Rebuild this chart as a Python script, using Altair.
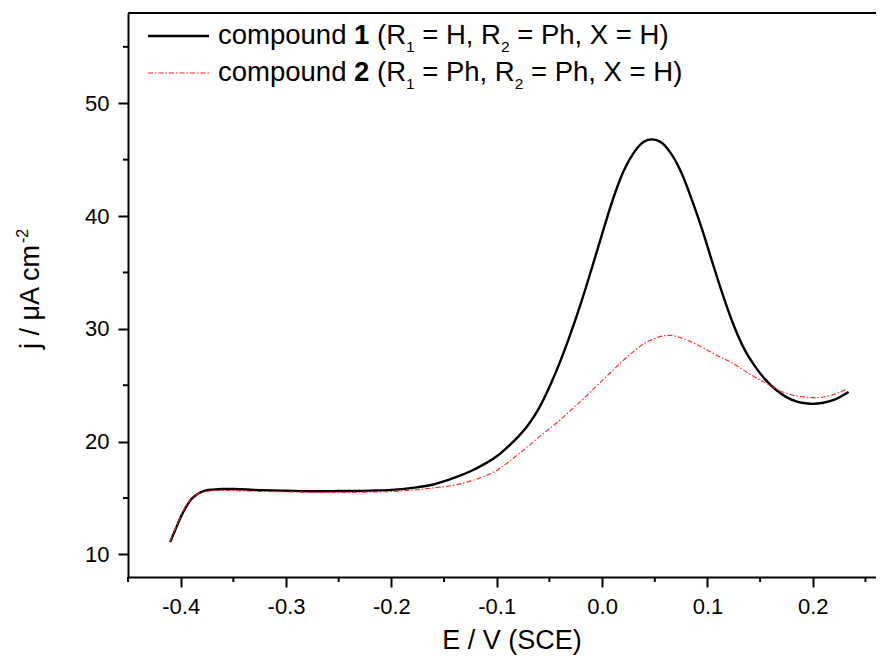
import altair as alt
import pandas as pd

# ---------------- data ----------------
E_c1 = [-0.41, -0.405, -0.40, -0.395, -0.39, -0.385, -0.38, -0.375, -0.37, -0.36, -0.35,
        -0.33, -0.30, -0.27, -0.25, -0.22, -0.20, -0.18, -0.16, -0.14, -0.12, -0.10, -0.09,
        -0.08, -0.07, -0.06, -0.05, -0.04, -0.03, -0.02, -0.01, 0.0, 0.01, 0.02, 0.03, 0.04,
        0.047, 0.055, 0.065, 0.075, 0.085, 0.095, 0.105, 0.115, 0.125, 0.135, 0.145, 0.155,
        0.165, 0.175, 0.185, 0.195, 0.20, 0.21, 0.22, 0.234]
j_c1 = [11.1, 12.2, 13.3, 14.2, 14.9, 15.3, 15.55, 15.7, 15.75, 15.8, 15.8,
        15.72, 15.65, 15.6, 15.62, 15.66, 15.72, 15.9, 16.2, 16.8, 17.6, 18.7, 19.5,
        20.4, 21.5, 22.95, 24.85, 27.05, 29.55, 32.3, 35.3, 38.4, 41.4, 43.9, 45.6, 46.6,
        46.8, 46.6, 45.6, 43.9, 41.5, 38.8, 35.8, 32.9, 30.3, 28.2, 26.7, 25.5,
        24.6, 23.95, 23.55, 23.38, 23.35, 23.45, 23.7, 24.4]

E_c2 = [-0.41, -0.405, -0.40, -0.395, -0.39, -0.385, -0.38, -0.375, -0.37, -0.36, -0.35,
        -0.33, -0.30, -0.27, -0.25, -0.22, -0.20, -0.18, -0.16, -0.14, -0.125, -0.11, -0.10,
        -0.09, -0.08, -0.07, -0.06, -0.05, -0.04, -0.03, -0.02, -0.01, 0.0, 0.01, 0.02, 0.03,
        0.04, 0.05, 0.06, 0.065, 0.075, 0.09, 0.11, 0.125, 0.14, 0.157, 0.169, 0.188, 0.201,
        0.217, 0.233]
j_c2 = [11.2, 12.3, 13.4, 14.3, 14.95, 15.3, 15.5, 15.6, 15.65, 15.68, 15.66,
        15.6, 15.55, 15.5, 15.5, 15.53, 15.58, 15.7, 15.9, 16.15, 16.5, 17.0, 17.45,
        18.1, 18.85, 19.6, 20.4, 21.15, 21.9, 22.75, 23.6, 24.5, 25.4, 26.3, 27.2, 28.0,
        28.7, 29.15, 29.4, 29.42, 29.2, 28.6, 27.6, 26.9, 26.0, 25.1, 24.5, 24.0, 23.9,
        24.1, 24.7]

x_major = [-0.4, -0.3, -0.2, -0.1, 0.0, 0.1, 0.2]
x_minor = [-0.45, -0.35, -0.25, -0.15, -0.05, 0.05, 0.15, 0.25]
y_major = [10, 20, 30, 40, 50]
y_minor = [15, 25, 35, 45, 55]

x_title = "E / V (SCE)"
y_title = "j / \u03bcA cm"
y_title_sup = "-2"

legend_rows = [
    [("compound ", "n"), ("1", "b"), (" (R", "n"), ("1", "s"), (" = H, R", "n"), ("2", "s"), (" = Ph, X = H)", "n")],
    [("compound ", "n"), ("2", "b"), (" (R", "n"), ("1", "s"), (" = Ph, R", "n"), ("2", "s"), (" = Ph, X = H)", "n")],
]

# ---------------- layout / style ----------------
W, H = 748, 564
FONT = "Liberation Sans"
LEG_SIZE, SUB_SIZE = 27.5, 15.5
AW = {" ": 278, "(": 333, ")": 333, ",": 278, "=": 584, "1": 556, "2": 556, "c": 500,
      "o": 556, "m": 833, "p": 556, "u": 556, "n": 556, "d": 556, "R": 722, "H": 722,
      "P": 667, "h": 556, "X": 667}


def text_width(s, size):
    return sum(AW.get(ch, 556) for ch in s) * size / 1000.0


xs = alt.Scale(domain=[-0.45, 0.26], nice=False, zero=False)
ys = alt.Scale(domain=[8, 58], nice=False, zero=False)

minus = "\u2212"
x_axis = alt.Axis(values=x_major, title=None, grid=False, tickSize=10, tickWidth=2,
                  domainWidth=2, domainColor="black", tickColor="black",
                  labelFont=FONT, labelFontSize=22, labelColor="black", labelPadding=9,
                  labelExpr="replace(format(datum.value, '.1f'), '" + minus + "', '-')")
y_axis = alt.Axis(values=y_major, title=None, grid=False, tickSize=10, tickWidth=2,
                  domainWidth=2, domainColor="black", tickColor="black",
                  labelFont=FONT, labelFontSize=22, labelColor="black", labelPadding=9,
                  format="d")

df1 = pd.DataFrame({"E": E_c1, "j": j_c1})
df2 = pd.DataFrame({"E": E_c2, "j": j_c2})

X = alt.X("E:Q", scale=xs, axis=x_axis)
Y = alt.Y("j:Q", scale=ys, axis=y_axis)

black = alt.Chart(df1).mark_line(color="black", strokeWidth=2.4, interpolate="monotone").encode(x=X, y=Y)
RED = "#ff2020"
RED_DASH = [5, 2, 1.5, 2]
red = alt.Chart(df2).mark_line(color=RED, strokeWidth=1.1, strokeDash=RED_DASH,
                               interpolate="monotone").encode(x=X, y=Y)

one = pd.DataFrame({"k": [0]})
top_rule = alt.Chart(one).mark_rule(color="black", strokeWidth=2).encode(
    x=alt.value(0), x2=alt.value(W), y=alt.value(0))

xminor = alt.Chart(pd.DataFrame({"E": x_minor})).mark_rule(color="black", strokeWidth=2).encode(
    x=X, y=alt.value(H), y2=alt.value(H + 5))
yminor = alt.Chart(pd.DataFrame({"j": y_minor})).mark_rule(color="black", strokeWidth=2).encode(
    y=Y, x=alt.value(0), x2=alt.value(-5))

layers = [black, red, top_rule, xminor, yminor]

# axis titles
layers.append(alt.Chart(one).mark_text(font=FONT, fontSize=27, align="center", baseline="alphabetic",
                                       color="black").encode(
    text=alt.value(x_title), x=alt.value(384), y=alt.value(636)))
layers.append(alt.Chart(one).mark_text(font=FONT, fontSize=27, align="center", baseline="alphabetic",
                                       angle=270, color="black").encode(
    text=alt.value(y_title), x=alt.value(-89), y=alt.value(284)))
layers.append(alt.Chart(one).mark_text(font=FONT, fontSize=16, align="center", baseline="alphabetic",
                                       angle=270, color="black").encode(
    text=alt.value(y_title_sup), x=alt.value(-100), y=alt.value(223)))

# legend
row_base = [31, 68]
sample_x0, sample_x1, text_x0 = 20, 81, 90
for i, row in enumerate(legend_rows):
    yb = row_base[i]
    if i == 0:
        samp = alt.Chart(one).mark_rule(color="black", strokeWidth=2.4).encode(
            x=alt.value(sample_x0), x2=alt.value(sample_x1), y=alt.value(yb - 8))
    else:
        samp = alt.Chart(one).mark_rule(color=RED, strokeWidth=1.1, strokeDash=RED_DASH).encode(
            x=alt.value(sample_x0), x2=alt.value(sample_x1), y=alt.value(yb - 8))
    layers.append(samp)
    cx = text_x0
    for seg, style in row:
        if style == "s":
            size, weight, yy = SUB_SIZE, "normal", yb + 8
        elif style == "b":
            size, weight, yy = LEG_SIZE, "bold", yb
        else:
            size, weight, yy = LEG_SIZE, "normal", yb
        lead = len(seg) - len(seg.lstrip(" "))
        trail = len(seg) - len(seg.rstrip(" "))
        core = seg.strip(" ")
        cx += text_width(" " * lead, size)
        layers.append(alt.Chart(one).mark_text(font=FONT, fontSize=size, fontWeight=weight,
                                               align="left", baseline="alphabetic", color="black").encode(
            text=alt.value(core), x=alt.value(cx), y=alt.value(yy)))
        cx += text_width(core, size) + text_width(" " * trail, size)

chart = alt.layer(*layers).properties(
    width=W, height=H,
    autosize=alt.AutoSizeParams(type="none"),
    padding={"left": 120, "top": 5, "right": 0, "bottom": 78},
    background="white",
).configure_view(strokeWidth=0)

chart.save("out.html", embed_options={"renderer": "svg", "actions": False})
